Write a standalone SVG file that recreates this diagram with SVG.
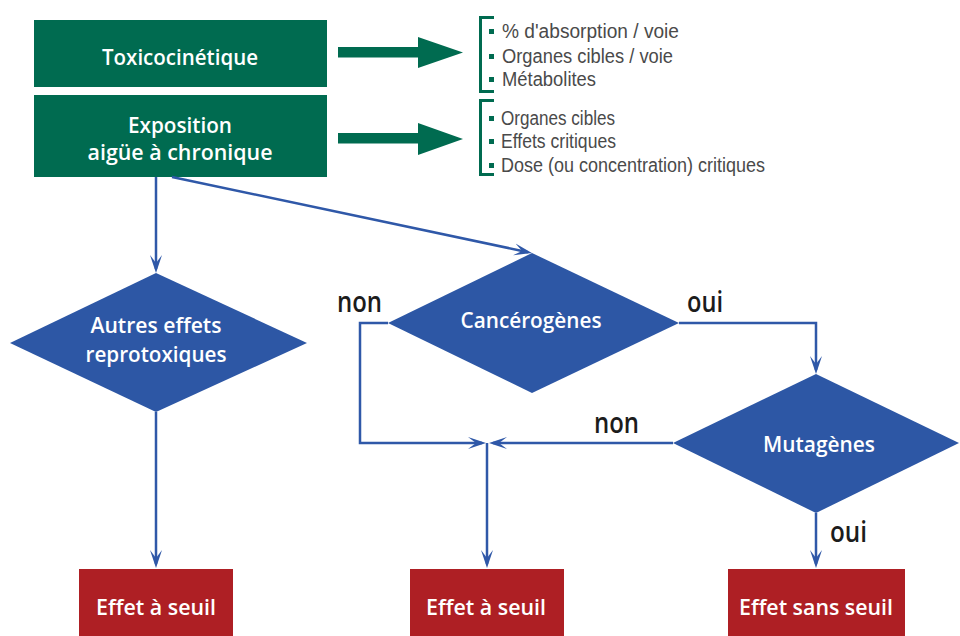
<svg xmlns="http://www.w3.org/2000/svg" width="960" height="636" viewBox="0 0 960 636">
<defs>
<style>
.green{fill:#006b50}
.red{fill:#ae1f24}
.dia{fill:#2d57a5}
.wt{fill:#fff;font-family:"Open Sans","Liberation Sans",Arial,sans-serif;font-weight:600;font-size:22px;text-anchor:middle}
.lbl{fill:#1c1c1c;font-family:"Open Sans","Liberation Sans",Arial,sans-serif;font-weight:600;font-size:28px}
.lst{fill:#4a4a4a;font-family:"Liberation Sans",Arial,sans-serif;font-size:20px}
.bul{fill:#006b50}
.brk{fill:none;stroke:#006b50;stroke-width:3}
.conn{fill:none;stroke:#2f58a8;stroke-width:2.5}
</style>
<marker id="ah" markerUnits="userSpaceOnUse" markerWidth="20" markerHeight="14" viewBox="0 -7 20 14" refX="14" refY="0" orient="auto">
<path d="M18,0 L0,-6 L8,0 L0,6 Z" fill="#2f58a8"/>
</marker>
</defs>

<g id="toxicocinetique">
<rect class="green" x="34" y="20" width="293" height="67"/>
<text class="wt" x="180" y="65" textLength="156" lengthAdjust="spacingAndGlyphs">Toxicocinétique</text>
</g>
<g id="exposition">
<rect class="green" x="34" y="95" width="293" height="82"/>
<text class="wt" x="180" y="133" textLength="104" lengthAdjust="spacingAndGlyphs">Exposition</text>
<text class="wt" x="180" y="160" textLength="185" lengthAdjust="spacingAndGlyphs">aigüe à chronique</text>
</g>

<g id="green-arrows">
<polygon class="green" points="338,47 418,47 418,37 463,52.5 418,68 418,57.5 338,57.5"/>
<polygon class="green" points="338,133 418,133 418,123 463,139 418,155 418,143.5 338,143.5"/>
</g>

<g id="list-toxicocinetique">
<path class="brk" d="M494,17.5 H480.5 V91.5 H494"/>
<rect class="bul" x="489" y="29" width="5" height="5"/>
<rect class="bul" x="489" y="54" width="5" height="5"/>
<rect class="bul" x="489" y="77" width="5" height="5"/>
<text class="lst" x="502" y="38" textLength="177" lengthAdjust="spacingAndGlyphs">% d'absorption / voie</text>
<text class="lst" x="502" y="63" textLength="171" lengthAdjust="spacingAndGlyphs">Organes cibles / voie</text>
<text class="lst" x="502" y="86" textLength="94" lengthAdjust="spacingAndGlyphs">Métabolites</text>
</g>
<g id="list-exposition">
<path class="brk" d="M494,100.5 H480.5 V174.5 H494"/>
<rect class="bul" x="489" y="116" width="5" height="5"/>
<rect class="bul" x="489" y="139" width="5" height="5"/>
<rect class="bul" x="489" y="163" width="5" height="5"/>
<text class="lst" x="501" y="125" textLength="114" lengthAdjust="spacingAndGlyphs">Organes cibles</text>
<text class="lst" x="501" y="148" textLength="115" lengthAdjust="spacingAndGlyphs">Effets critiques</text>
<text class="lst" x="501" y="172" textLength="264" lengthAdjust="spacingAndGlyphs">Dose (ou concentration) critiques</text>
</g>

<g id="connectors">
<line class="conn" x1="156" y1="177" x2="156" y2="269" marker-end="url(#ah)"/>
<line class="conn" x1="172" y1="177" x2="528" y2="252.2" marker-end="url(#ah)"/>
<polyline class="conn" points="679,323 816,323 816,370" marker-end="url(#ah)"/>
<polyline class="conn" points="388,323 360,323 360,443 482,443" marker-end="url(#ah)"/>
<line class="conn" x1="673" y1="443" x2="493" y2="443" marker-end="url(#ah)"/>
<line class="conn" x1="487" y1="443" x2="487" y2="564" marker-end="url(#ah)"/>
<line class="conn" x1="156" y1="412" x2="156" y2="564" marker-end="url(#ah)"/>
<line class="conn" x1="816" y1="513" x2="816" y2="564" marker-end="url(#ah)"/>
<text class="lbl" x="337" y="312" textLength="45" lengthAdjust="spacingAndGlyphs">non</text>
<text class="lbl" x="687" y="312" textLength="36" lengthAdjust="spacingAndGlyphs">oui</text>
<text class="lbl" x="594" y="433" textLength="45" lengthAdjust="spacingAndGlyphs">non</text>
<text class="lbl" x="830" y="542" textLength="37" lengthAdjust="spacingAndGlyphs">oui</text>
</g>

<g id="autres-effets">
<polygon class="dia" points="156,273 307,343 156,412 10,343"/>
<text class="wt" x="156" y="333" textLength="131" lengthAdjust="spacingAndGlyphs">Autres effets</text>
<text class="wt" x="156" y="362" textLength="141" lengthAdjust="spacingAndGlyphs">reprotoxiques</text>
</g>
<g id="cancerogenes">
<polygon class="dia" points="532,253 679,323 532,393 388,323"/>
<text class="wt" x="531" y="328" textLength="141" lengthAdjust="spacingAndGlyphs">Cancérogènes</text>
</g>
<g id="mutagenes">
<polygon class="dia" points="816,374 959,443 816,513 673,443"/>
<text class="wt" x="819" y="452" textLength="112" lengthAdjust="spacingAndGlyphs">Mutagènes</text>
</g>

<g id="effet-seuil-1">
<rect class="red" x="79" y="569" width="154" height="67"/>
<text class="wt" x="156" y="615" textLength="120" lengthAdjust="spacingAndGlyphs">Effet à seuil</text>
</g>
<g id="effet-seuil-2">
<rect class="red" x="410" y="569" width="154" height="67"/>
<text class="wt" x="486" y="615" textLength="120" lengthAdjust="spacingAndGlyphs">Effet à seuil</text>
</g>
<g id="effet-sans-seuil">
<rect class="red" x="728" y="569" width="177" height="67"/>
<text class="wt" x="816" y="615" textLength="154" lengthAdjust="spacingAndGlyphs">Effet sans seuil</text>
</g>
</svg>
